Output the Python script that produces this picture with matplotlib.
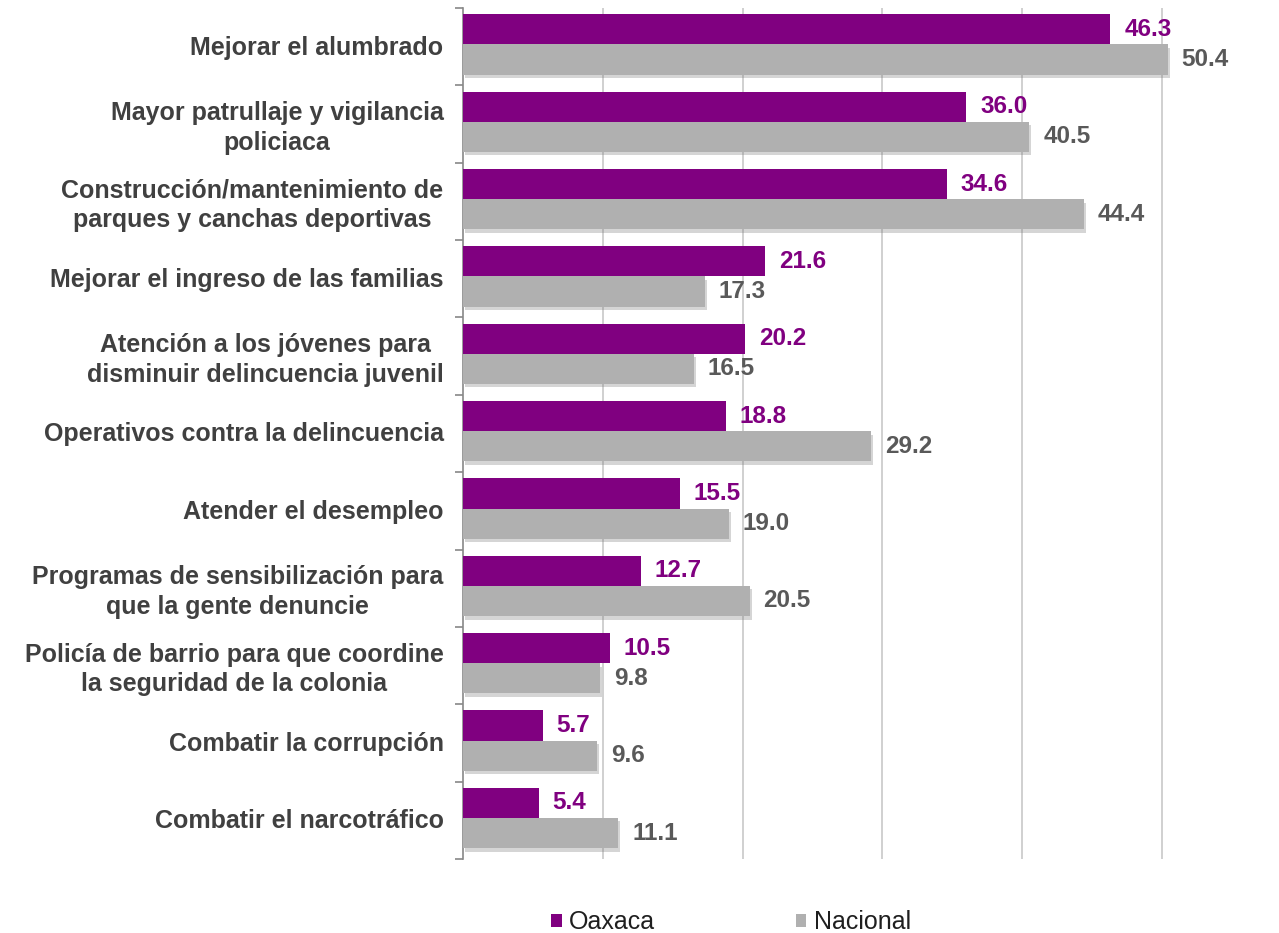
import matplotlib
matplotlib.use("Agg")
import matplotlib.pyplot as plt
import matplotlib.patheffects as pe
from matplotlib.patches import Patch
import numpy as np

categories = [
    "Mejorar el alumbrado",
    "Mayor patrullaje y vigilancia\npoliciaca",
    "Construcción/mantenimiento de\nparques y canchas deportivas",
    "Mejorar el ingreso de las familias",
    "Atención a los jóvenes para\ndisminuir delincuencia juvenil",
    "Operativos contra la delincuencia",
    "Atender el desempleo",
    "Programas de sensibilización para\nque la gente denuncie",
    "Policía de barrio para que coordine\nla seguridad de la colonia",
    "Combatir la corrupción",
    "Combatir el narcotráfico",
]
oaxaca = [46.3, 36.0, 34.6, 21.6, 20.2, 18.8, 15.5, 12.7, 10.5, 5.7, 5.4]
nacional = [50.4, 40.5, 44.4, 17.3, 16.5, 29.2, 19.0, 20.5, 9.8, 9.6, 11.1]
series_names = ["Oaxaca", "Nacional"]
x_ticks = [10, 20, 30, 40, 50]

PURPLE = "#800080"
GRAY = "#B0B0B0"
FONT = "Liberation Sans"

plt.rcParams["font.family"] = [FONT, "DejaVu Sans"]

fig = plt.figure(figsize=(12.79, 9.33), dpi=100)
ax = fig.add_axes([463/1279, 1 - 859/933, (1232 - 463)/1279, (859 - 8)/933])

n = len(categories)
y = np.arange(n)
h = 0.39
shift = -0.03
yo = y + shift - h/2
yn = y + shift + h/2

ax.barh(yo, oaxaca, height=h, color=PURPLE, zorder=3)
bars_n = ax.barh(yn, nacional, height=h, color=GRAY, zorder=3)
for b in bars_n:
    b.set_path_effects([pe.SimplePatchShadow(offset=(1.5, -2.5), shadow_rgbFace="#777777", alpha=0.3),
                        pe.Normal()])

for yy, v in zip(yo, oaxaca):
    ax.annotate(f"{v:.1f}", (v, yy), xytext=(10, 0), textcoords="offset points",
                va="center", ha="left", fontsize=17.5, fontweight="bold", color=PURPLE, zorder=5)
for yy, v in zip(yn, nacional):
    ax.annotate(f"{v:.1f}", (v, yy), xytext=(10, 0), textcoords="offset points",
                va="center", ha="left", fontsize=17.5, fontweight="bold", color="#595959", zorder=5)

ax.set_xlim(0, 55)
ax.set_ylim(n - 0.5, -0.5)

ax.set_xticks(x_ticks)
ax.set_xticklabels([])
ax.tick_params(axis="x", length=0)
ax.grid(axis="x", color="#C8C8C8", linewidth=1.2, zorder=0)

ax.set_yticks(y - 0.02)
ax.set_yticklabels(categories, fontsize=18, fontweight="bold", color="#404040",
                   multialignment="center", linespacing=1.3)
ax.tick_params(axis="y", which="major", length=0, pad=14)
ax.set_yticks(np.arange(n + 1) - 0.5, minor=True)
ax.tick_params(axis="y", which="minor", length=6, width=1.2, color="#888888", direction="out")

for s in ["top", "right", "bottom"]:
    ax.spines[s].set_visible(False)
ax.spines["left"].set_color("#888888")
ax.spines["left"].set_linewidth(1.2)

handles = [Patch(facecolor=PURPLE, edgecolor="none"), Patch(facecolor=GRAY, edgecolor="none")]
fig.legend(handles, series_names, ncol=2, loc="center", bbox_to_anchor=(731/1279, 1 - 922/933),
           frameon=False, fontsize=18, handlelength=0.42, handleheight=0.42,
           handletextpad=0.3, columnspacing=5.6, labelcolor="#1F1F1F")

fig.savefig("out.png", dpi=100)
